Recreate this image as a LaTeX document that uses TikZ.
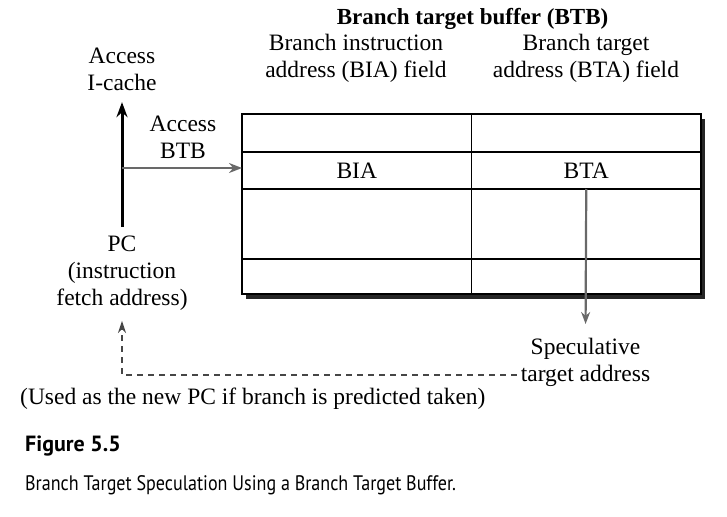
\documentclass[tikz,border=0pt]{standalone}
\usepackage{fontspec}
\setmainfont{Liberation Serif}
\newfontfamily\capsans[FakeStretch=0.86]{PT Sans}
\newfontfamily\figsans{PT Sans}
\usetikzlibrary{arrows.meta, positioning, backgrounds}

\tikzset{
  txt/.style={inner sep=0pt, align=center, font=\fontsize{23.5}{27}\selectfont},
  cellbox/.style={draw, line width=1.1pt, fill=white, inner sep=0pt, outer sep=0pt, minimum width=229.5pt},
  grayarrow/.style={color={rgb, 255:red, 105; green, 105; blue, 105}, line width=2.6pt, -{Stealth[length=13pt,width=10pt]}},
}

\begin{document}
\begin{tikzpicture}[x=1pt,y=1pt,yscale=-1,xscale=1]
\path[use as bounding box] (0,0) rectangle (727,516);

% Text Node
\node [txt, font=\fontsize{23}{27}\selectfont\bfseries, anchor=base] (title) at (472.5,25) {Branch target buffer (BTB)};
% Text Node
\node [txt, anchor=north] (biahead) at (356,34) {Branch instruction\\address (BIA) field};
% Text Node
\node [txt, anchor=north] (btahead) at (586,34) {Branch target\\address (BTA) field};

%Shape: BTB cells
\node [cellbox, minimum height=38pt] (a1) at (356.75,133) {};
\node [cellbox, minimum height=38pt, right=0pt of a1] (a2) {};
\node [cellbox, minimum height=37pt, below=0pt of a1] (b1) {\fontsize{23.5}{27}\selectfont BIA};
\node [cellbox, minimum height=37pt, right=0pt of b1] (b2) {\fontsize{23.5}{27}\selectfont BTA};
\node [cellbox, minimum height=70pt, below=0pt of b1] (c1) {};
\node [cellbox, minimum height=70pt, right=0pt of c1] (c2) {};
\node [cellbox, minimum height=35pt, below=0pt of c1] (d1) {};
\node [cellbox, minimum height=35pt, right=0pt of d1] (d2) {};

%Shape: shadow of the BTB
\begin{scope}[on background layer]
\fill [black!85] ([shift={(4,5)}]a1.north west) rectangle ([shift={(4,5)}]d2.south east);
\end{scope}

% Text Node
\node [txt, anchor=north] (icache) at (122,48) {Access\\I-cache};
% Text Node
\node [txt, anchor=north] (accbtb) at (183,115.5) {Access\\BTB};
% Text Node
\node [txt, anchor=north] (pc) at (122,236) {PC\\(instruction\\fetch address)};
% Text Node
\node [txt, anchor=north] (spec) at (585.5,338) {Speculative\\target address};
% Text Node
\node [txt, anchor=base west] (usedas) at (20,404) {(Used as the new PC if branch is predicted taken)};

\coordinate (tap) at (122,168);
\coordinate (turn) at (122,375);

% PC to I-cache
\draw [line width=3pt, -{Stealth[length=15pt,width=11pt]}, shorten <=9pt, shorten >=11pt] (pc.north) -- (icache.south);
% PC to BTB
\draw [grayarrow] (tap) -- (tap -| b1.west);
% BTA out
\draw [grayarrow, line width=2.2pt, -{Stealth[length=12pt,width=9pt]}, shorten >=14pt] (b2.south) -- (spec.north);
% back to PC
\draw [color={rgb, 255:red, 70; green, 70; blue, 70}, line width=1.6pt, dash pattern=on 6pt off 5pt, -{Stealth[length=12pt,width=8pt]}, shorten <=4pt, shorten >=10pt] (spec.west |- turn) -- (turn) -- (pc.south);

% Caption
\node [anchor=base west, inner sep=0pt, font=\figsans\bfseries\fontsize{22}{26}\selectfont] (fig) at (25,451) {Figure 5.5};
\node [anchor=base west, inner sep=0pt, font=\capsans\fontsize{21}{26}\selectfont] (caption) at (25,490) {Branch Target Speculation Using a Branch Target Buffer.};

\end{tikzpicture}
\end{document}
